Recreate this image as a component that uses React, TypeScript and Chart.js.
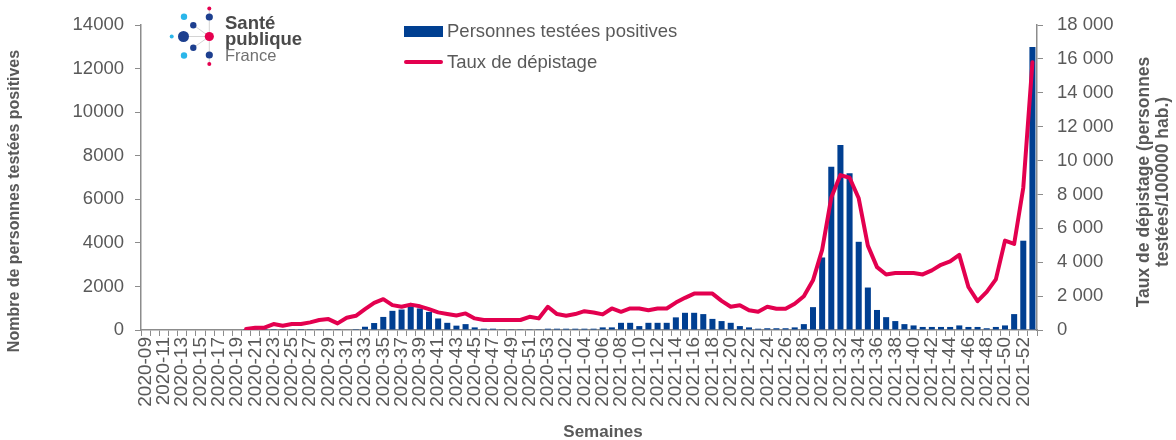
import React, { useEffect, useRef } from "react";
import { Chart, registerables } from "chart.js";

Chart.register(...registerables);

const weeks: string[] = [
  "2020-09","2020-10","2020-11","2020-12","2020-13","2020-14","2020-15","2020-16","2020-17","2020-18",
  "2020-19","2020-20","2020-21","2020-22","2020-23","2020-24","2020-25","2020-26","2020-27","2020-28",
  "2020-29","2020-30","2020-31","2020-32","2020-33","2020-34","2020-35","2020-36","2020-37","2020-38",
  "2020-39","2020-40","2020-41","2020-42","2020-43","2020-44","2020-45","2020-46","2020-47","2020-48",
  "2020-49","2020-50","2020-51","2020-52","2020-53","2021-01","2021-02","2021-03","2021-04","2021-05",
  "2021-06","2021-07","2021-08","2021-09","2021-10","2021-11","2021-12","2021-13","2021-14","2021-15",
  "2021-16","2021-17","2021-18","2021-19","2021-20","2021-21","2021-22","2021-23","2021-24","2021-25",
  "2021-26","2021-27","2021-28","2021-29","2021-30","2021-31","2021-32","2021-33","2021-34","2021-35",
  "2021-36","2021-37","2021-38","2021-39","2021-40","2021-41","2021-42","2021-43","2021-44","2021-45",
  "2021-46","2021-47","2021-48","2021-49","2021-50","2021-51","2021-52","2022-01",
];

const positives: number[] = [
  0, 0, 0, 0, 0, 0, 0, 0, 0, 0,
  0, 5, 5, 5, 5, 5, 5, 5, 10, 10,
  10, 10, 20, 40, 150, 320, 600, 880, 940, 1090,
  990, 830, 530, 330, 200, 270, 120, 60, 60, 10,
  10, 10, 10, 10, 60, 60, 60, 60, 60, 60,
  120, 120, 330, 330, 180, 330, 330, 330, 580, 790,
  790, 730, 510, 410, 330, 180, 120, 60, 80, 80,
  80, 120, 270, 1050, 3330, 7500, 8500, 7200, 4050, 1950,
  920, 590, 410, 270, 210, 140, 140, 140, 140, 210,
  140, 140, 80, 140, 210, 730, 4100, 13000,
];

const tauxDepistage: (number | null)[] = [
  null, null, null, null, null, null, null, null, null, null,
  null, 60, 135, 135, 350, 250, 350, 350, 450, 590,
  645, 390, 720, 840, 1230, 1600, 1820, 1470, 1370, 1500,
  1400, 1230, 1040, 950, 860, 980, 685, 590, 590, 590,
  590, 590, 780, 685, 1370, 940, 840, 940, 1110, 1035,
  920, 1270, 1075, 1270, 1270, 1170, 1270, 1270, 1620, 1900,
  2150, 2150, 2150, 1720, 1370, 1465, 1170, 1075, 1370, 1250,
  1250, 1545, 1990, 2930, 4730, 7815, 9145, 8990, 7775, 4980,
  3710, 3280, 3360, 3360, 3360, 3280, 3520, 3850, 4045, 4435,
  2540, 1700, 2250, 2990, 5275, 5080, 8400, 15800,
];

const leftTicks: number[] = [0, 2000, 4000, 6000, 8000, 10000, 12000, 14000];
const rightTicks: string[] = ["0", "2 000", "4 000", "6 000", "8 000", "10 000", "12 000", "14 000", "16 000", "18 000"];

const BAR_COLOR = "#003f91";
const LINE_COLOR = "#e3004f";
const TEXT = "#595959";
const AXIS = "#8c8c8c";
const FONT = "'Liberation Sans', Arial, sans-serif";

const decorPlugin = {
  id: "decor",
  afterDraw(chart: any) {
    const ctx = chart.ctx as CanvasRenderingContext2D;
    ctx.save();
    // Legend
    const ds = chart.data.datasets;
    ctx.fillStyle = ds[0].backgroundColor;
    ctx.fillRect(404, 26, 39, 11);
    ctx.strokeStyle = ds[1].borderColor;
    ctx.lineWidth = 4;
    ctx.lineCap = "round";
    ctx.beginPath();
    ctx.moveTo(406, 62);
    ctx.lineTo(441, 62);
    ctx.stroke();
    ctx.fillStyle = TEXT;
    ctx.font = `18.5px ${FONT}`;
    ctx.textAlign = "left";
    ctx.textBaseline = "middle";
    ctx.fillText(ds[0].label, 447, 32);
    ctx.fillText(ds[1].label, 447, 63);

    // Axis titles
    ctx.font = `bold 16px ${FONT}`;
    ctx.textAlign = "center";
    ctx.save();
    ctx.translate(15, 201);
    ctx.rotate(-Math.PI / 2);
    ctx.fillText("Nombre de personnes testées positives", 0, 0);
    ctx.restore();
    ctx.font = `bold 17.5px ${FONT}`;
    ctx.save();
    ctx.translate(1144, 182);
    ctx.rotate(-Math.PI / 2);
    ctx.fillText("Taux de dépistage (personnes", 0, 0);
    ctx.restore();
    ctx.save();
    ctx.translate(1163, 182);
    ctx.rotate(-Math.PI / 2);
    ctx.fillText("testées/100000 hab.)", 0, 0);
    ctx.restore();
    ctx.font = `bold 17px ${FONT}`;
    ctx.fillText("Semaines", 603, 432);

    // Logo
    const cx = 209.3, cy = 36.5;
    ctx.strokeStyle = "#d4d4d4";
    ctx.lineWidth = 1;
    ctx.lineCap = "butt";
    ctx.beginPath();
    ctx.moveTo(cx, 8); ctx.lineTo(cx, 64);
    ctx.moveTo(cx, cy); ctx.lineTo(193.3, 25);
    ctx.moveTo(cx, cy); ctx.lineTo(183.3, cy);
    ctx.moveTo(cx, cy); ctx.lineTo(193.3, 47.7);
    ctx.stroke();
    const dots: [number, number, number, string][] = [
      [209.3, 8.5, 2, "#e5004f"],
      [209.3, 17, 3.6, "#1d3f8f"],
      [184, 16.7, 3.2, "#2bb6ea"],
      [193.3, 25.3, 3.2, "#1d3f8f"],
      [171.7, 36.5, 2, "#2bb6ea"],
      [183.5, 36.5, 5.5, "#1d3f8f"],
      [209.3, 36.5, 4.6, "#e5004f"],
      [193.3, 47.7, 3.2, "#1d3f8f"],
      [184, 55.5, 3.2, "#2bb6ea"],
      [209.3, 55, 3.6, "#1d3f8f"],
      [209.3, 64, 2, "#e5004f"],
    ];
    for (const [x, y, r, c] of dots) {
      ctx.fillStyle = c;
      ctx.beginPath();
      ctx.arc(x, y, r, 0, Math.PI * 2);
      ctx.fill();
    }
    ctx.textAlign = "left";
    ctx.textBaseline = "alphabetic";
    ctx.fillStyle = "#4a4a4a";
    ctx.font = `bold 18.5px ${FONT}`;
    ctx.fillText("Santé", 225, 28.5);
    ctx.fillText("publique", 225, 45);
    ctx.fillStyle = "#707070";
    ctx.font = `16.5px ${FONT}`;
    ctx.fillText("France", 225, 61);
    ctx.restore();
  },
};

export default function App() {
  const ref = useRef<HTMLCanvasElement | null>(null);
  useEffect(() => {
    document.body.style.margin = "0";
    const canvas = ref.current;
    if (!canvas) return;
    const chart = new Chart(canvas, {
      type: "bar",
      data: {
        labels: weeks,
        datasets: [
          {
            type: "bar",
            label: "Personnes testées positives",
            data: positives,
            backgroundColor: BAR_COLOR,
            borderWidth: 0,
            barPercentage: 0.66,
            categoryPercentage: 1,
            yAxisID: "y",
            order: 2,
          },
          {
            type: "line",
            label: "Taux de dépistage",
            data: tauxDepistage,
            borderColor: LINE_COLOR,
            backgroundColor: LINE_COLOR,
            borderWidth: 4,
            pointRadius: 0,
            tension: 0,
            borderJoinStyle: "round",
            borderCapStyle: "round",
            yAxisID: "y1",
            order: 1,
          },
        ] as any,
      },
      options: {
        responsive: false,
        animation: false,
        layout: { padding: { top: 23, left: 0, right: 0, bottom: 0 } },
        plugins: {
          legend: { display: false },
          tooltip: { enabled: false },
          title: { display: false },
        },
        scales: {
          x: {
            type: "category",
            offset: true,
            grid: {
              display: true,
              drawOnChartArea: false,
              drawTicks: true,
              tickLength: 6,
              color: AXIS,
              offset: true,
            },
            border: { display: true, color: AXIS, width: 1.5 },
            ticks: {
              autoSkip: false,
              maxRotation: 90,
              minRotation: 90,
              padding: 1,
              color: TEXT,
              font: { family: FONT, size: 19 },
              callback: (_v: any, i: number) => (i % 2 === 0 ? weeks[i] : ""),
            },
            afterFit: (s: any) => {
              s.height = 110;
            },
          },
          y: {
            position: "left",
            min: leftTicks[0],
            max: leftTicks[leftTicks.length - 1],
            afterBuildTicks: (s: any) => {
              s.ticks = leftTicks.map((v) => ({ value: v }));
            },
            grid: { drawOnChartArea: false, drawTicks: true, tickLength: 6, color: AXIS },
            border: { display: true, color: AXIS, width: 1.5 },
            ticks: {
              padding: 11,
              color: TEXT,
              font: { family: FONT, size: 18.5 },
              callback: (v: any) => String(v),
            },
            afterFit: (s: any) => {
              s.width = 141;
            },
          },
          y1: {
            position: "right",
            min: 0,
            max: 18000,
            afterBuildTicks: (s: any) => {
              s.ticks = rightTicks.map((_t, i) => ({ value: i * 2000 }));
            },
            grid: { drawOnChartArea: false, drawTicks: true, tickLength: 6, color: AXIS },
            border: { display: true, color: AXIS, width: 1.5 },
            ticks: {
              padding: 14,
              color: TEXT,
              font: { family: FONT, size: 18.5 },
              callback: (_v: any, i: number) => rightTicks[i],
            },
            afterFit: (s: any) => {
              s.width = 139;
            },
          },
        },
      } as any,
      plugins: [decorPlugin],
    });
    return () => chart.destroy();
  }, []);
  return (
    <div style={{ width: 1176, height: 440, background: "#fff" }}>
      <canvas ref={ref} width={1176} height={440} style={{ display: "block" }} />
    </div>
  );
}
